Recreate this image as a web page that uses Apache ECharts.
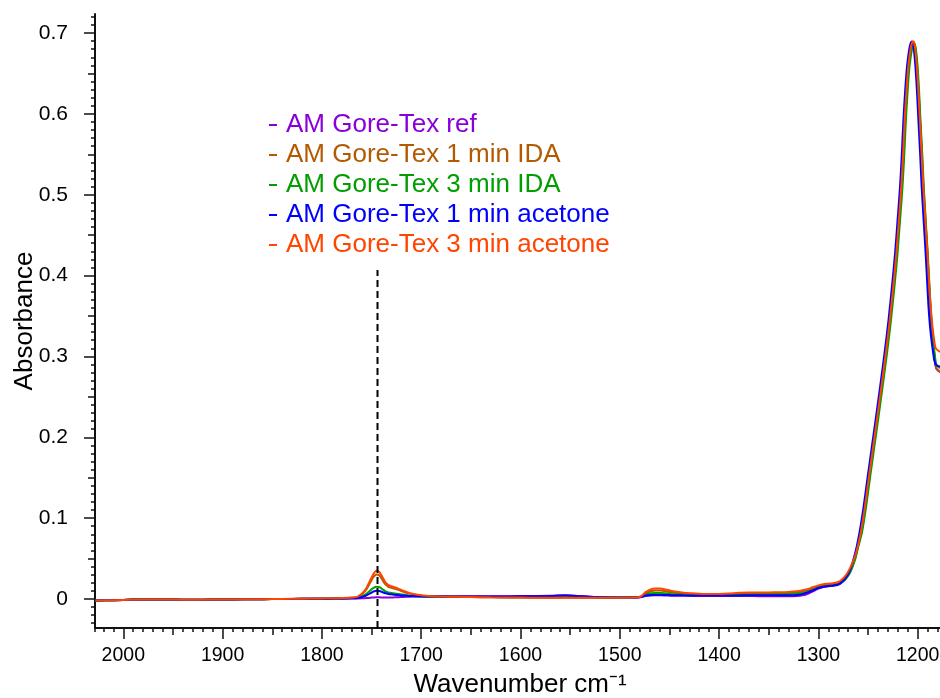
<!DOCTYPE html>
<html>
<head>
<meta charset="utf-8">
<script src="https://cdn.jsdelivr.net/npm/echarts@6/dist/echarts.min.js"></script>
<style>html,body{margin:0;padding:0;background:#fff}#c{width:940px;height:698px}</style>
</head>
<body>
<div id="c"></div>
<script>
// ---------- data ----------
const seriesNames = ['AM Gore-Tex ref', 'AM Gore-Tex 1 min IDA', 'AM Gore-Tex 3 min IDA', 'AM Gore-Tex 1 min acetone', 'AM Gore-Tex 3 min acetone'];
const seriesColors = ['#8A00D8', '#B35A00', '#009E00', '#0000FF', '#FF4500'];

// shared wavenumbers (cm-1) for the low-absorbance region
const wnLow = [2028, 2010, 1990, 1970, 1950, 1930, 1910, 1890, 1870, 1850,
  1830, 1810, 1795, 1780, 1770, 1764, 1759, 1755, 1751, 1748,
  1745, 1742, 1739, 1736, 1733, 1730, 1727, 1723, 1718, 1712,
  1705, 1698, 1690, 1680, 1665, 1650, 1630, 1610, 1590, 1570,
  1555, 1545, 1530, 1510, 1495, 1485, 1479, 1474, 1469, 1464,
  1459, 1454, 1449, 1443, 1436, 1428, 1420, 1410, 1400, 1390,
  1380, 1370, 1360, 1350, 1340, 1330, 1322];

const refLow = [-0.002, -0.0015, -0.0008, -0.0006, -0.0008, -0.001, -0.0008, -0.0005, -0.0003, -0.0001,
  0.0001, 0.0002, 0.0003, 0.0004, 0.0005, 0.0006, 0.0008, 0.0011, 0.0015, 0.0019,
  0.0021, 0.002, 0.0019, 0.0018, 0.0018, 0.0019, 0.002, 0.0022, 0.0025, 0.0028,
  0.003, 0.0031, 0.0032, 0.0033, 0.0034, 0.0034, 0.0034, 0.0035, 0.0036, 0.0039,
  0.0046, 0.0041, 0.0028, 0.002, 0.0018, 0.0018, 0.0022, 0.0036, 0.0043, 0.0045,
  0.0045, 0.0043, 0.0041, 0.004, 0.0039, 0.0038, 0.0037, 0.0036, 0.0036, 0.0036,
  0.0036, 0.0036, 0.0035, 0.0034, 0.0033, 0.0033, 0.0036];
const ida1Low = [-0.002, -0.0015, -0.0008, -0.0006, -0.0008, -0.001, -0.0008, -0.0005, -0.0003, -0.0001,
  0.0001, 0.0004, 0.0006, 0.001, 0.0015, 0.0026, 0.0065, 0.0122, 0.021, 0.0272,
  0.0304, 0.029, 0.0235, 0.018, 0.0151, 0.0138, 0.0128, 0.0112, 0.0089, 0.0066,
  0.0049, 0.0038, 0.0032, 0.0028, 0.0026, 0.0024, 0.0021, 0.0019, 0.0017, 0.0016,
  0.0017, 0.0017, 0.0016, 0.0016, 0.0016, 0.0017, 0.0027, 0.007, 0.0095, 0.0104,
  0.0104, 0.0096, 0.0085, 0.0075, 0.0066, 0.006, 0.0055, 0.0052, 0.0054, 0.0058,
  0.0064, 0.0067, 0.0068, 0.0069, 0.007, 0.0074, 0.0082];
const ida3Low = [-0.002, -0.0015, -0.0008, -0.0006, -0.0008, -0.001, -0.0008, -0.0005, -0.0003, -0.0001,
  0.0001, 0.0003, 0.0005, 0.0008, 0.0012, 0.0018, 0.0038, 0.0065, 0.0108, 0.0138,
  0.0152, 0.0146, 0.012, 0.0095, 0.0082, 0.0075, 0.0069, 0.0061, 0.0051, 0.0041,
  0.0034, 0.003, 0.0028, 0.0027, 0.0026, 0.0025, 0.0023, 0.0022, 0.0021, 0.002,
  0.0021, 0.0021, 0.002, 0.0019, 0.0019, 0.002, 0.0027, 0.0055, 0.007, 0.0075,
  0.0074, 0.0069, 0.0063, 0.0058, 0.0053, 0.005, 0.0048, 0.0047, 0.0048, 0.005,
  0.0054, 0.0056, 0.0057, 0.0057, 0.0058, 0.0061, 0.0068];
const ace1Low = [-0.002, -0.0015, -0.0008, -0.0006, -0.0008, -0.001, -0.0008, -0.0005, -0.0003, -0.0001,
  0.0001, 0.0003, 0.0004, 0.0006, 0.0009, 0.0013, 0.0026, 0.0045, 0.0072, 0.0093,
  0.0103, 0.0099, 0.0084, 0.007, 0.0062, 0.0057, 0.0053, 0.0048, 0.0042, 0.0037,
  0.0034, 0.0032, 0.0031, 0.0031, 0.0031, 0.0031, 0.0031, 0.0032, 0.0033, 0.0036,
  0.0042, 0.0038, 0.0026, 0.0019, 0.0018, 0.0019, 0.0025, 0.0042, 0.0049, 0.005,
  0.005, 0.0049, 0.0047, 0.0046, 0.0045, 0.0044, 0.0043, 0.0042, 0.0042, 0.0043,
  0.0044, 0.0045, 0.0045, 0.0045, 0.0045, 0.0046, 0.005];
const ace3Low = [-0.002, -0.0015, -0.0008, -0.0006, -0.0008, -0.001, -0.0008, -0.0005, -0.0003, -0.0001,
  0.0002, 0.0005, 0.0008, 0.0012, 0.0018, 0.003, 0.0075, 0.014, 0.024, 0.031,
  0.0348, 0.033, 0.027, 0.0205, 0.0172, 0.0158, 0.0146, 0.0128, 0.0102, 0.0075,
  0.0055, 0.0042, 0.0035, 0.003, 0.0027, 0.0024, 0.002, 0.0018, 0.0016, 0.0015,
  0.0016, 0.0016, 0.0015, 0.0015, 0.0015, 0.0017, 0.003, 0.0085, 0.0118, 0.0128,
  0.0128, 0.0118, 0.0103, 0.009, 0.0078, 0.007, 0.0064, 0.006, 0.0062, 0.0068,
  0.0076, 0.0079, 0.008, 0.0081, 0.0083, 0.0087, 0.0095];

// main C-F band region: [wavenumber, absorbance]
const refBand = [[1316, 0.0045], [1310, 0.0068], [1305, 0.0098], [1300, 0.0128], [1295, 0.0147], [1290, 0.0156], [1285, 0.0164], [1280, 0.0176], [1276, 0.0208], [1272, 0.0258], [1268, 0.0335], [1263, 0.051], [1260, 0.066], [1257, 0.083], [1253, 0.114], [1249, 0.150], [1244.7, 0.188], [1240.5, 0.225], [1236.3, 0.263], [1232, 0.303], [1227.9, 0.345], [1223.8, 0.394], [1221.3, 0.4275], [1218.8, 0.468], [1216.3, 0.51], [1214.5, 0.55], [1212.9, 0.592], [1211.3, 0.625], [1209.6, 0.654], [1208.3, 0.669], [1207, 0.68], [1205.8, 0.6865], [1204.6, 0.689], [1203.4, 0.6868], [1202.1, 0.676], [1200.7, 0.656], [1199.2, 0.626], [1197.8, 0.592], [1196.1, 0.552], [1194.5, 0.51], [1192.5, 0.468], [1190.5, 0.4275], [1189.1, 0.395], [1187.7, 0.365], [1186.2, 0.338], [1184.6, 0.315], [1183, 0.297], [1181.3, 0.285], [1177.5, 0.2805]];
const ida1Band = [[1316, 0.0095], [1310, 0.0113], [1305, 0.0135], [1300, 0.0157], [1295, 0.0172], [1290, 0.018], [1285, 0.0187], [1280, 0.0199], [1276, 0.023], [1272, 0.0282], [1268, 0.036], [1263, 0.051], [1260, 0.066], [1256.7, 0.083], [1252.7, 0.114], [1248.7, 0.150], [1244.4, 0.188], [1240.2, 0.225], [1236, 0.263], [1231.7, 0.303], [1227.6, 0.345], [1223.5, 0.394], [1221, 0.4275], [1218.5, 0.468], [1216, 0.51], [1214.2, 0.55], [1212.6, 0.592], [1211, 0.625], [1209.3, 0.654], [1208, 0.669], [1206.7, 0.68], [1205.5, 0.6865], [1204.3, 0.6885], [1203.1, 0.686], [1201.8, 0.675], [1200.4, 0.655], [1199, 0.625], [1197.5, 0.592], [1195.8, 0.552], [1194.2, 0.51], [1192.2, 0.468], [1190.2, 0.4275], [1188.8, 0.395], [1187.4, 0.365], [1185.9, 0.338], [1184.3, 0.316], [1182.7, 0.298], [1181.1, 0.2855], [1177.5, 0.281]];
const ida3Band = [[1316, 0.0074], [1310, 0.0095], [1305, 0.0118], [1300, 0.014], [1295, 0.0155], [1290, 0.0163], [1285, 0.0171], [1280, 0.0182], [1276, 0.021], [1272, 0.0255], [1268, 0.033], [1263, 0.049], [1260, 0.064], [1256, 0.083], [1252, 0.114], [1248, 0.150], [1243.7, 0.188], [1239.5, 0.225], [1235.3, 0.263], [1231, 0.303], [1226.9, 0.345], [1222.8, 0.394], [1220.3, 0.4275], [1217.8, 0.468], [1215.3, 0.51], [1213.5, 0.55], [1211.9, 0.592], [1210.3, 0.625], [1208.6, 0.654], [1207.3, 0.668], [1206, 0.678], [1204.8, 0.6845], [1203.6, 0.6865], [1202.4, 0.684], [1201.2, 0.674], [1199.9, 0.655], [1198.5, 0.626], [1197.2, 0.592], [1195.5, 0.552], [1193.9, 0.51], [1191.9, 0.468], [1189.9, 0.4275], [1188.5, 0.395], [1187.2, 0.365], [1185.8, 0.34], [1184.3, 0.319], [1182.7, 0.301], [1181.2, 0.29], [1177.5, 0.2855]];
const ace1Band = [[1316, 0.006], [1310, 0.0085], [1305, 0.011], [1300, 0.0135], [1295, 0.0152], [1290, 0.016], [1285, 0.0168], [1280, 0.018], [1276, 0.0215], [1272, 0.027], [1268, 0.036], [1263, 0.0565], [1258.5, 0.083], [1254.5, 0.114], [1250.5, 0.150], [1246.2, 0.188], [1242, 0.225], [1237.8, 0.263], [1233.5, 0.303], [1229.4, 0.345], [1225.3, 0.394], [1222.8, 0.4275], [1220.3, 0.468], [1217.8, 0.51], [1216, 0.55], [1214.4, 0.592], [1212.8, 0.625], [1211.1, 0.654], [1209.8, 0.669], [1208.5, 0.68], [1207.3, 0.6868], [1206.1, 0.6895], [1204.9, 0.6875], [1203.6, 0.677], [1202.2, 0.657], [1200.7, 0.627], [1199.3, 0.592], [1197.6, 0.552], [1196, 0.51], [1194, 0.468], [1192, 0.4275], [1190.6, 0.395], [1189.3, 0.365], [1187.8, 0.34], [1186.3, 0.322], [1184.6, 0.306], [1183.2, 0.295], [1181.6, 0.2895], [1177.5, 0.2875]];
const ace3Band = [[1316, 0.0108], [1310, 0.0125], [1305, 0.0148], [1300, 0.0168], [1295, 0.0182], [1290, 0.0189], [1285, 0.0196], [1280, 0.021], [1276, 0.0245], [1272, 0.030], [1268, 0.0385], [1263, 0.053], [1260, 0.067], [1257.2, 0.083], [1253.2, 0.114], [1249.2, 0.150], [1244.9, 0.188], [1240.7, 0.225], [1236.5, 0.263], [1232.2, 0.303], [1228.1, 0.345], [1224, 0.394], [1221.5, 0.4275], [1219, 0.468], [1216.5, 0.51], [1214.7, 0.55], [1213.1, 0.592], [1211.5, 0.625], [1209.8, 0.654], [1208.5, 0.669], [1207.2, 0.68], [1206, 0.6868], [1204.8, 0.6898], [1203.6, 0.688], [1202.3, 0.678], [1200.9, 0.659], [1199.4, 0.63], [1198, 0.597], [1196.3, 0.557], [1194.7, 0.517], [1192.7, 0.477], [1190.7, 0.438], [1189.3, 0.408], [1188, 0.38], [1186.5, 0.355], [1185, 0.335], [1183.4, 0.32], [1181.8, 0.31], [1177.5, 0.3055]];

const lowValues = [refLow, ida1Low, ida3Low, ace1Low, ace3Low];
const bandValues = [refBand, ida1Band, ida3Band, ace1Band, ace3Band];

// dashed marker at the C=O band
const markerWn = 1744;
const markerTop = 0.407;

// axis ranges and tick labels
const xRange = [1100, 2028.5];   // inverse axis; right part lies beyond the canvas
const yRange = [-0.0359, 0.7235];
const xTickLabels = [1200, 1300, 1400, 1500, 1600, 1700, 1800, 1900, 2000];
const yTickLabels = [0, 0.1, 0.2, 0.3, 0.4, 0.5, 0.6, 0.7];

// ---------- layout ----------
const W = 940, H = 698;
const plotLeft = 95, plotTop = 14, plotBottomPx = 628;
const pxPerWn = 0.993;
const plotWidth = (xRange[1] - xRange[0]) * pxPerWn;
const pxPerAbs = (plotBottomPx - plotTop) / (yRange[1] - yRange[0]);
const yPix = v => plotBottomPx - (v - yRange[0]) * pxPerAbs;
const xPix = v => plotLeft + (xRange[1] - v) * pxPerWn;
const xNameCenter = 520;

const FONT = "'Liberation Sans', Arial, sans-serif";
const axisCol = '#111';

function buildSeriesData(i) {
  const d = wnLow.map((w, j) => [w, lowValues[i][j]]);
  return d.concat(bandValues[i]);
}

function mkGrid(left, width, top, height) {
  return { left, width, top, height, outerBoundsMode: 'none', containLabel: false };
}
const plotH = plotBottomPx - plotTop;
const grids = [
  mkGrid(plotLeft, plotWidth, plotTop, plotH),                                         // 0 data
  mkGrid(xPix(2000), xPix(1100) - xPix(2000), plotTop, plotH),                          // 1 x medium ticks
  mkGrid(xPix(2000), xPix(1100) - xPix(2000), plotTop, plotH),                          // 2 x major ticks
  mkGrid(plotLeft, plotWidth, yPix(0.72), yPix(-0.03) - yPix(0.72)),                    // 3 y minor ticks
  mkGrid(plotLeft, plotWidth, yPix(0.7), yPix(0) - yPix(0.7)),                          // 4 y medium
  mkGrid(plotLeft, plotWidth, yPix(0.7), yPix(0) - yPix(0.7))                           // 5 y major
];

const hiddenX = (g) => ({ type: 'value', gridIndex: g, show: false, min: xRange[0], max: xRange[1], inverse: true });
const hiddenY = (g) => ({ type: 'value', gridIndex: g, show: false, min: 0, max: 1 });

// shift of the axis-title centre relative to the data-grid centre
const xNamePad = 2 * ((plotLeft + plotWidth / 2) - xNameCenter);

const xAxes = [
  { type: 'value', gridIndex: 0, min: xRange[0], max: xRange[1], inverse: true, interval: 10,
    name: 'Wavenumber cm\u207B\u00B9', nameLocation: 'middle', nameGap: 44,
    nameTextStyle: { fontFamily: FONT, fontSize: 26, color: '#000', padding: [0, xNamePad, 0, 0] },
    axisLine: { show: true, onZero: false, lineStyle: { color: axisCol, width: 2 } },
    axisTick: { show: true, length: 4, lineStyle: { color: axisCol, width: 1.5 } },
    axisLabel: { show: false }, splitLine: { show: false } },
  { type: 'value', gridIndex: 1, min: 1100, max: 2000, inverse: true, interval: 50,
    axisLine: { show: false, onZero: false },
    axisTick: { show: true, length: 7, lineStyle: { color: axisCol, width: 1.5 } },
    axisLabel: { show: false }, splitLine: { show: false } },
  { type: 'value', gridIndex: 2, min: 1100, max: 2000, inverse: true, interval: 100,
    axisLine: { show: false, onZero: false },
    axisTick: { show: true, length: 11, lineStyle: { color: axisCol, width: 1.5 } },
    axisLabel: { show: true, margin: 18, fontFamily: FONT, fontSize: 19.5, color: '#000',
      formatter: v => (xTickLabels.indexOf(Math.round(v)) >= 0 ? String(Math.round(v)) : '') },
    splitLine: { show: false } },
  hiddenX(3), hiddenX(4), hiddenX(5)
];

const yAxes = [
  { type: 'value', gridIndex: 0, min: yRange[0], max: yRange[1],
    name: 'Absorbance', nameLocation: 'middle', nameGap: 57,
    nameTextStyle: { fontFamily: FONT, fontSize: 26, color: '#000' },
    axisLine: { show: true, onZero: false, lineStyle: { color: axisCol, width: 2 } },
    axisTick: { show: false }, axisLabel: { show: false }, splitLine: { show: false } },
  hiddenY(1), hiddenY(2),
  { type: 'value', gridIndex: 3, min: -0.03, max: 0.72, interval: 0.01,
    axisLine: { show: false, onZero: false },
    axisTick: { show: true, length: 4, lineStyle: { color: axisCol, width: 1.5 } },
    axisLabel: { show: false }, splitLine: { show: false } },
  { type: 'value', gridIndex: 4, min: 0, max: 0.7, interval: 0.05,
    axisLine: { show: false, onZero: false },
    axisTick: { show: true, length: 7, lineStyle: { color: axisCol, width: 1.5 } },
    axisLabel: { show: false }, splitLine: { show: false } },
  { type: 'value', gridIndex: 5, min: 0, max: 0.7, interval: 0.1,
    axisLine: { show: false, onZero: false },
    axisTick: { show: true, length: 11, lineStyle: { color: axisCol, width: 1.5 } },
    axisLabel: { show: true, margin: 27, fontFamily: FONT, fontSize: 21, color: '#000',
      formatter: v => { const r = Math.round(v * 10) / 10; return yTickLabels.indexOf(r) >= 0 ? String(r) : ''; } },
    splitLine: { show: false } }
];

const series = seriesNames.map((name, i) => ({
  name, type: 'line', xAxisIndex: 0, yAxisIndex: 0,
  data: buildSeriesData(i), showSymbol: false, symbol: 'none', smooth: 0.3,
  color: seriesColors[i], lineStyle: { color: seriesColors[i], width: 2 },
  emphasis: { disabled: true }, z: 2 + i
}));
series.push({
  name: 'marker', type: 'line', xAxisIndex: 0, yAxisIndex: 0,
  data: [[markerWn, yRange[0]], [markerWn, markerTop]], symbol: 'none', silent: true,
  lineStyle: { color: '#000', width: 2, type: [7, 4] }, z: 10
});

const chart = echarts.init(document.getElementById('c'), null, { renderer: 'canvas' });
chart.setOption({
  animation: false,
  backgroundColor: '#fff',
  grid: grids,
  xAxis: xAxes,
  yAxis: yAxes,
  legend: {
    orient: 'vertical', left: 264, top: 105, itemGap: 0,
    icon: 'rect', itemWidth: 8, itemHeight: 2,
    selectedMode: false,
    textStyle: { fontFamily: FONT, fontSize: 26, lineHeight: 30, padding: [0, 0, 0, 4] },
    data: seriesNames.map((n, i) => ({ name: n, textStyle: { color: seriesColors[i] } }))
  },
  series
});
</script>
</body>
</html>
